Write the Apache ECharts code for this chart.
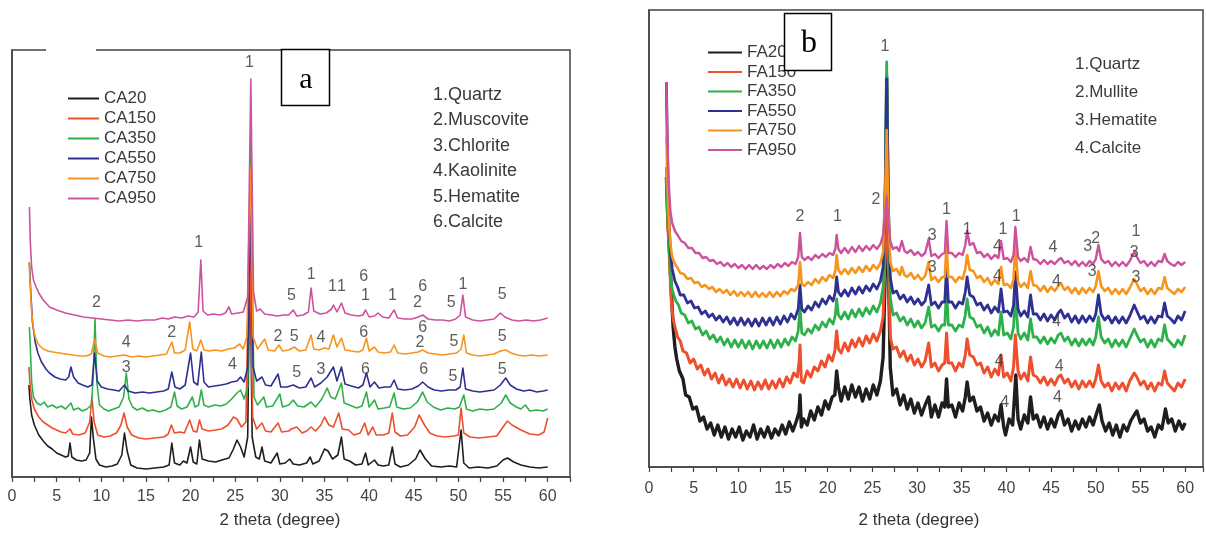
<!DOCTYPE html>
<html><head><meta charset="utf-8">
<script src="https://cdn.jsdelivr.net/npm/echarts@6/dist/echarts.min.js"></script>
<style>html,body{margin:0;padding:0;background:#fff}#c{width:1206px;height:536px}</style>
</head><body><div id="c"></div><script>
const namesA = ['CA20','CA150','CA350','CA550','CA750','CA950'];
const namesB = ['FA20','FA150','FA350','FA550','FA750','FA950'];
const colors = ['#1e1e1e','#ef4f2c','#2eb14b','#2e3192','#f7941d','#cc529e'];
const mineralsA = ['1.Quartz','2.Muscovite','3.Chlorite','4.Kaolinite','5.Hematite','6.Calcite'];
const mineralsB = ['1.Quartz','2.Mullite','3.Hematite','4.Calcite'];
const xTickLabels = [0,5,10,15,20,25,30,35,40,45,50,55,60];
const axisTitle = '2 theta (degree)';

const CA20 = [[1.9,92],[2.0,78],[2.2,62],[2.5,52],[3.0,42],[3.5,36],[4.0,31],[4.5,28],[5.0,24],[5.5,22],[6.0,20],[6.3,21],[6.5,34],[6.7,20],[7.2,17],[7.8,16],[8.3,17],[8.7,24],[8.9,60],[9.1,40],[9.4,18],[9.8,12],[10.5,10],[11.2,11],[11.8,13],[12.3,22],[12.6,44],[12.9,26],[13.3,12],[14,9],[15,8],[16,9],[17,10],[17.6,12],[17.9,34],[18.2,14],[18.8,12],[19.2,16],[19.6,14],[20.0,30],[20.3,15],[20.7,13],[21.0,37],[21.3,18],[22,16],[22.8,15],[23.5,17],[24.3,19],[24.8,28],[25.2,37],[25.6,30],[26.0,20],[26.4,40],[26.65,230],[26.9,40],[27.3,20],[27.7,18],[28.0,30],[28.3,16],[29.0,14],[29.7,24],[30.0,13],[30.6,14],[31.1,18],[31.5,13],[32.2,12],[33.0,14],[33.4,20],[33.7,13],[34.4,16],[35.0,28],[35.4,26],[35.9,18],[36.5,22],[36.9,40],[37.2,18],[37.8,16],[38.5,12],[39.2,13],[39.6,24],[39.9,12],[40.6,17],[41.0,12],[41.6,11],[42.2,12],[42.6,30],[42.9,13],[43.5,10],[44.4,12],[45.2,18],[45.7,27],[46.3,18],[47.0,11],[48.0,10],[49.0,11],[49.8,10],[50.3,47],[50.6,14],[51.2,9],[52.2,10],[53.3,9],[54.3,11],[55.0,17],[55.5,19],[56.2,15],[57.0,12],[58.0,10],[59.0,9],[60.0,10]];
const CA150 = [[1.9,110],[2.0,95],[2.2,78],[2.5,68],[3.0,60],[3.5,55],[4.0,52],[4.5,49],[5.0,47],[5.5,45],[6.0,44],[6.5,48],[6.8,43],[7.5,42],[8.2,44],[8.7,55],[8.95,80],[9.2,55],[9.6,42],[10.3,40],[11.0,41],[11.7,44],[12.2,52],[12.55,64],[12.9,50],[13.4,42],[14.2,39],[15,38],[16,39],[17,40],[17.5,43],[17.85,52],[18.2,44],[18.8,45],[19.3,44],[19.9,57],[20.3,46],[20.7,45],[21.0,57],[21.3,48],[22.0,46],[22.8,47],[23.5,48],[24.2,52],[24.8,60],[25.2,58],[25.7,50],[26.2,55],[26.6,250],[26.95,60],[27.4,48],[28.0,54],[28.4,46],[29.0,45],[29.8,54],[30.2,45],[31.0,46],[31.3,48],[31.9,50],[32.5,44],[33.0,46],[33.5,50],[34.0,46],[34.6,52],[35.0,60],[35.5,52],[36.0,50],[36.6,64],[37.0,48],[37.7,47],[38.3,42],[39.0,44],[39.5,54],[39.9,42],[40.4,50],[40.8,42],[41.6,42],[42.2,44],[42.6,64],[42.9,45],[43.5,41],[44.3,42],[45.1,50],[45.6,62],[46.2,52],[46.8,44],[47.6,41],[48.5,40],[49.5,41],[50.0,42],[50.3,69],[50.6,44],[51.3,40],[52.3,39],[53.3,40],[54.3,41],[55.0,50],[55.5,56],[56.0,52],[57.0,47],[58.0,43],[59.0,42],[59.6,45],[60.0,59]];
const CA350 = [[1.95,150],[2.05,130],[2.2,95],[2.4,80],[2.8,74],[3.2,72],[3.6,75],[4.0,70],[4.5,72],[5.0,69],[5.5,71],[6.0,68],[6.6,74],[6.9,67],[7.4,69],[7.9,66],[8.4,68],[8.9,72],[9.1,100],[9.3,158],[9.5,95],[9.8,72],[10.3,68],[10.8,66],[11.4,68],[12.0,70],[12.5,80],[12.8,104],[13.1,78],[13.5,70],[14.0,67],[14.6,69],[15.2,66],[15.8,67],[16.5,65],[17.2,67],[17.8,70],[18.2,85],[18.5,71],[19.0,68],[19.6,70],[20.2,80],[20.5,70],[20.9,72],[21.2,87],[21.5,72],[22.0,70],[22.7,72],[23.4,71],[24.0,73],[24.6,78],[25.2,84],[25.6,87],[26.0,78],[26.4,90],[26.75,340],[27.1,80],[27.5,72],[28.2,80],[28.5,70],[29.2,71],[30.0,83],[30.3,70],[31.0,72],[31.5,77],[32.0,71],[32.7,70],[33.5,75],[34.0,70],[34.7,78],[35.3,89],[35.7,80],[36.2,78],[36.9,94],[37.2,74],[37.8,72],[38.6,69],[39.2,71],[39.7,85],[40.0,70],[40.6,77],[41.0,68],[41.7,69],[42.3,70],[42.8,84],[43.1,70],[43.8,68],[44.6,69],[45.4,75],[46.0,85],[46.5,75],[47.2,70],[48.0,67],[48.8,69],[49.6,68],[50.1,70],[50.6,82],[50.9,68],[51.6,66],[52.4,68],[53.2,67],[54.0,68],[54.8,74],[55.3,82],[55.8,74],[56.5,70],[57.0,68],[57.5,72],[58.0,66],[58.8,67],[59.5,66],[60.0,68]];
const CA550 = [[1.95,214],[2.1,185],[2.3,154],[2.6,135],[2.9,124],[3.3,115],[3.8,108],[4.2,104],[4.8,100],[5.4,98],[6.0,97],[6.35,100],[6.6,110],[6.9,100],[7.4,94],[7.9,92],[8.5,90],[8.95,92],[9.25,124],[9.55,96],[10.0,90],[10.7,88],[11.4,87],[12.0,86],[12.6,92],[13.0,86],[13.8,84],[14.6,85],[15.4,84],[16.2,85],[17.0,86],[17.5,88],[17.9,105],[18.25,90],[18.8,88],[19.4,92],[20.0,124],[20.35,95],[20.8,92],[21.2,125],[21.5,95],[22.0,90],[22.7,91],[23.4,92],[24.0,93],[24.6,95],[25.2,96],[25.6,100],[26.0,95],[26.4,110],[26.7,290],[27.0,110],[27.4,96],[28.0,100],[28.4,92],[29.0,91],[29.8,103],[30.1,90],[30.8,90],[31.5,92],[32.2,89],[32.9,90],[33.5,99],[33.9,90],[34.6,94],[35.3,100],[36.0,110],[36.4,96],[36.9,110],[37.3,93],[38.0,91],[38.8,89],[39.3,92],[39.7,104],[40.1,90],[40.6,95],[41.1,89],[41.8,90],[42.4,90],[42.8,97],[43.2,88],[44.0,87],[44.8,88],[45.5,91],[46.0,95],[46.6,90],[47.3,87],[48.1,86],[48.9,87],[49.7,87],[50.2,90],[50.5,109],[50.8,88],[51.6,86],[52.4,85],[53.2,86],[54.0,87],[54.7,92],[55.3,99],[55.8,92],[56.5,88],[57.3,86],[58.0,87],[58.8,85],[59.5,86],[60.0,87]];
const CA750 = [[1.9,215],[2.05,190],[2.2,165],[2.4,148],[2.6,140],[3.0,132],[3.5,128],[4.0,126],[4.6,125],[5.3,124],[6.0,123],[6.8,122],[7.6,121],[8.3,121],[8.9,123],[9.25,138],[9.6,124],[10.3,121],[11.0,120],[11.8,121],[12.6,122],[13.4,120],[14.2,121],[15.0,120],[15.8,121],[16.6,122],[17.3,123],[17.9,135],[18.2,124],[18.8,124],[19.4,127],[19.9,155],[20.25,128],[20.7,126],[21.15,137],[21.5,127],[22.1,126],[22.8,127],[23.5,126],[24.2,128],[24.9,129],[25.5,133],[25.9,128],[26.3,140],[26.7,310],[27.0,140],[27.5,128],[28.3,138],[28.7,127],[29.4,126],[29.9,132],[30.3,126],[31.0,127],[31.6,130],[32.2,126],[32.9,127],[33.5,142],[33.8,128],[34.4,127],[35.0,129],[35.5,128],[36.0,142],[36.4,130],[36.9,139],[37.3,127],[38.0,126],[38.8,125],[39.3,127],[39.7,139],[40.0,126],[40.6,130],[41.0,125],[41.7,124],[42.4,125],[42.8,132],[43.2,124],[44.0,123],[44.8,124],[45.5,125],[46.0,127],[46.6,124],[47.4,123],[48.2,122],[49.0,123],[49.8,124],[50.3,128],[50.6,142],[50.9,124],[51.6,122],[52.4,121],[53.2,122],[54.0,123],[54.7,126],[55.3,127],[55.9,124],[56.6,122],[57.4,121],[58.2,122],[59.0,121],[60.0,122]];
const CA950 = [[1.95,270],[2.05,235],[2.2,210],[2.4,197],[2.7,190],[3.0,184],[3.5,177],[4.2,170],[5.0,167],[6.0,164],[7.0,162],[8.0,160],[9.0,159],[10.0,158],[11.0,157],[12.0,156],[13.0,157],[14.0,156],[15.0,157],[16.0,157],[16.8,159],[17.5,158],[18.2,160],[19.0,159],[19.7,161],[20.4,160],[20.85,165],[21.15,217],[21.4,166],[21.9,162],[22.6,163],[23.3,162],[23.9,164],[24.3,170],[24.6,163],[25.3,164],[25.9,165],[26.4,180],[26.75,398],[27.05,185],[27.4,166],[27.8,168],[28.3,163],[29.0,162],[29.7,161],[30.4,162],[31.0,162],[31.5,167],[31.9,161],[32.6,162],[33.2,165],[33.5,189],[33.8,166],[34.5,163],[35.2,164],[35.8,168],[36.0,172],[36.4,165],[36.9,174],[37.3,164],[38.0,162],[38.8,161],[39.3,162],[39.6,167],[40.0,160],[40.6,161],[41.0,164],[41.5,160],[42.2,159],[42.8,167],[43.2,159],[44.0,158],[44.8,158],[45.5,160],[46.0,162],[46.6,158],[47.4,157],[48.2,157],[49.0,156],[49.7,158],[50.2,162],[50.5,182],[50.8,160],[51.6,157],[52.4,156],[53.2,157],[54.0,158],[54.7,164],[55.2,160],[56.0,157],[56.8,156],[57.6,157],[58.4,156],[59.2,157],[60.0,159]];

const FA20 = [[1.95,290],[2.1,250],[2.3,215],[2.5,175],[2.7,140],[2.9,120],[3.1,108],[3.4,96],[3.8,88],[4.1,72],[4.5,70],[4.9,58],[5.3,60],[5.7,46],[6.1,50],[6.5,38],[6.9,44],[7.3,32],[7.7,42],[8.1,30],[8.5,40],[8.9,28],[9.3,38],[9.7,30],[10.1,40],[10.5,27],[10.9,36],[11.3,30],[11.7,42],[12.1,28],[12.5,38],[12.9,30],[13.3,40],[13.7,29],[14.1,38],[14.5,32],[14.9,42],[15.3,33],[15.7,45],[16.1,36],[16.5,46],[16.8,55],[16.9,72],[17.05,40],[17.3,48],[17.7,42],[18.1,56],[18.5,47],[18.9,60],[19.3,52],[19.7,66],[20.1,58],[20.5,70],[20.8,72],[21.0,96],[21.2,80],[21.5,66],[21.9,80],[22.3,68],[22.7,82],[23.1,70],[23.5,80],[23.9,66],[24.3,78],[24.7,68],[25.1,82],[25.5,72],[25.9,86],[26.2,110],[26.45,200],[26.6,390],[26.8,200],[27.0,100],[27.3,72],[27.7,78],[28.1,62],[28.5,72],[28.9,58],[29.3,68],[29.7,54],[30.1,64],[30.5,52],[30.9,62],[31.3,70],[31.6,50],[32.0,62],[32.4,50],[32.8,64],[33.1,60],[33.3,88],[33.5,60],[33.9,62],[34.3,50],[34.7,64],[35.1,56],[35.4,70],[35.6,85],[35.9,66],[36.3,70],[36.7,56],[37.1,60],[37.5,46],[37.9,54],[38.3,42],[38.7,52],[39.1,46],[39.4,62],[39.7,40],[39.9,32],[40.3,48],[40.7,42],[40.9,70],[41.05,92],[41.3,48],[41.6,38],[42.0,52],[42.4,44],[42.7,70],[43.0,48],[43.4,52],[43.8,40],[44.2,50],[44.6,38],[45.0,48],[45.4,40],[45.8,52],[46.1,56],[46.5,42],[46.9,48],[47.3,36],[47.7,46],[48.1,38],[48.5,48],[48.9,40],[49.3,50],[49.7,42],[50.1,54],[50.4,62],[50.7,46],[51.1,36],[51.5,44],[51.9,32],[52.3,42],[52.7,30],[53.1,42],[53.5,36],[53.9,46],[54.3,52],[54.6,56],[55.0,44],[55.4,48],[55.8,36],[56.2,40],[56.6,30],[57.0,42],[57.4,38],[57.8,58],[58.1,44],[58.5,48],[58.9,36],[59.3,46],[59.7,38],[60.0,44]];
const FA150 = [[1.95,290],[2.1,245],[2.3,205],[2.5,165],[2.7,148],[2.9,140],[3.2,130],[3.5,126],[3.8,116],[4.2,114],[4.6,104],[5.0,108],[5.4,98],[5.8,102],[6.2,92],[6.6,98],[7.0,88],[7.4,94],[7.8,84],[8.2,92],[8.6,82],[9.0,88],[9.4,80],[9.8,88],[10.2,79],[10.6,87],[11.0,78],[11.4,86],[11.8,77],[12.2,85],[12.6,78],[13.0,87],[13.4,78],[13.8,86],[14.2,79],[14.6,88],[15.0,80],[15.4,90],[15.8,84],[16.2,94],[16.6,90],[16.8,105],[16.9,122],[17.05,86],[17.3,84],[17.7,96],[18.1,90],[18.5,100],[18.9,96],[19.3,106],[19.7,100],[20.1,112],[20.5,106],[20.8,116],[21.0,136],[21.2,118],[21.5,114],[21.9,124],[22.3,116],[22.7,127],[23.1,120],[23.5,129],[23.9,121],[24.3,131],[24.7,124],[25.1,133],[25.5,126],[25.9,136],[26.2,150],[26.45,220],[26.6,300],[26.8,200],[27.0,130],[27.3,118],[27.7,120],[28.1,110],[28.5,116],[28.9,106],[29.3,112],[29.7,102],[30.1,108],[30.5,100],[30.9,106],[31.3,124],[31.6,100],[32.0,104],[32.4,96],[32.8,102],[33.1,104],[33.3,134],[33.5,104],[33.9,104],[34.3,96],[34.7,104],[35.1,100],[35.4,112],[35.6,128],[35.9,112],[36.3,110],[36.7,102],[37.1,104],[37.5,94],[37.9,100],[38.3,90],[38.7,98],[39.1,92],[39.4,112],[39.7,90],[40.1,94],[40.5,86],[40.8,100],[41.0,132],[41.3,96],[41.6,88],[42.0,94],[42.4,86],[42.7,110],[43.0,92],[43.4,90],[43.8,84],[44.2,90],[44.6,82],[45.0,88],[45.4,82],[45.8,90],[46.1,92],[46.5,84],[46.9,88],[47.3,80],[47.7,86],[48.1,78],[48.5,86],[48.9,80],[49.3,86],[49.7,80],[50.0,88],[50.3,102],[50.6,86],[51.0,80],[51.4,84],[51.8,76],[52.2,84],[52.6,78],[53.0,84],[53.4,76],[53.8,86],[54.3,94],[54.6,90],[55.0,82],[55.4,86],[55.8,78],[56.2,84],[56.6,76],[57.0,84],[57.4,82],[57.7,96],[58.0,84],[58.4,80],[58.8,76],[59.2,84],[59.6,80],[60.0,88]];
const FA350 = [[1.95,300],[2.1,250],[2.3,212],[2.5,182],[2.7,174],[3.0,166],[3.3,162],[3.6,154],[4.0,152],[4.4,144],[4.8,146],[5.2,138],[5.6,140],[6.0,132],[6.4,136],[6.8,128],[7.2,132],[7.6,125],[8.0,130],[8.4,122],[8.8,128],[9.2,120],[9.6,127],[10.0,120],[10.4,127],[10.8,119],[11.2,126],[11.6,118],[12.0,126],[12.4,119],[12.8,126],[13.2,119],[13.6,127],[14.0,119],[14.4,127],[14.8,120],[15.2,128],[15.6,122],[16.0,130],[16.4,126],[16.7,136],[16.9,160],[17.1,134],[17.4,132],[17.8,138],[18.2,134],[18.6,142],[19.0,137],[19.4,145],[19.8,140],[20.2,148],[20.6,143],[20.85,152],[21.0,168],[21.2,152],[21.5,148],[21.9,155],[22.3,148],[22.7,157],[23.1,150],[23.5,158],[23.9,151],[24.3,159],[24.7,153],[25.1,161],[25.5,155],[25.9,164],[26.2,180],[26.45,280],[26.6,405],[26.8,260],[27.0,170],[27.3,152],[27.7,154],[28.1,146],[28.5,150],[28.9,142],[29.3,148],[29.7,140],[30.1,146],[30.5,139],[30.9,144],[31.3,160],[31.6,140],[32.0,142],[32.4,136],[32.8,142],[33.1,142],[33.3,178],[33.5,142],[33.9,142],[34.3,136],[34.7,142],[35.1,140],[35.4,152],[35.6,168],[35.9,150],[36.3,148],[36.7,140],[37.1,142],[37.5,134],[37.9,140],[38.3,131],[38.7,137],[39.1,132],[39.4,155],[39.7,132],[40.1,134],[40.5,128],[40.8,140],[41.0,172],[41.3,134],[41.6,128],[42.0,134],[42.4,127],[42.7,148],[43.0,130],[43.4,130],[43.8,124],[44.2,130],[44.6,123],[45.0,129],[45.4,124],[45.8,132],[46.1,134],[46.5,126],[46.9,130],[47.3,122],[47.7,128],[48.1,121],[48.5,128],[48.9,122],[49.3,128],[49.7,122],[50.0,130],[50.3,150],[50.6,130],[51.0,124],[51.4,128],[51.8,120],[52.2,127],[52.6,121],[53.0,127],[53.4,120],[53.8,128],[54.3,138],[54.6,132],[55.0,125],[55.4,128],[55.8,120],[56.2,127],[56.6,120],[57.0,128],[57.4,126],[57.7,142],[58.0,128],[58.4,124],[58.8,120],[59.2,127],[59.6,122],[60.0,132]];
const FA550 = [[1.95,385],[2.05,320],[2.2,255],[2.4,215],[2.6,198],[2.9,186],[3.2,180],[3.5,172],[3.9,172],[4.3,164],[4.7,166],[5.1,159],[5.5,160],[5.9,153],[6.3,156],[6.7,150],[7.1,153],[7.5,147],[7.9,151],[8.3,145],[8.7,150],[9.1,143],[9.5,149],[9.9,142],[10.3,149],[10.7,142],[11.1,148],[11.5,141],[11.9,148],[12.3,141],[12.7,149],[13.1,142],[13.5,149],[13.9,142],[14.3,150],[14.7,143],[15.1,151],[15.5,145],[15.9,153],[16.3,148],[16.7,158],[16.9,182],[17.1,158],[17.4,155],[17.8,161],[18.2,157],[18.6,165],[19.0,160],[19.4,168],[19.8,163],[20.2,171],[20.6,166],[20.85,175],[21.0,190],[21.2,175],[21.5,171],[21.9,177],[22.3,171],[22.7,179],[23.1,173],[23.5,180],[23.9,174],[24.3,181],[24.7,176],[25.1,183],[25.5,178],[25.9,186],[26.2,200],[26.45,290],[26.6,388],[26.8,260],[27.0,190],[27.3,174],[27.7,176],[28.1,168],[28.5,172],[28.9,165],[29.3,170],[29.7,163],[30.1,168],[30.5,162],[30.9,166],[31.3,182],[31.6,162],[32.0,165],[32.4,159],[32.8,165],[33.1,165],[33.3,200],[33.5,165],[33.9,165],[34.3,159],[34.7,165],[35.1,163],[35.4,175],[35.6,190],[35.9,172],[36.3,170],[36.7,162],[37.1,164],[37.5,157],[37.9,162],[38.3,154],[38.7,160],[39.1,155],[39.4,178],[39.7,155],[40.1,156],[40.5,151],[40.8,162],[41.0,195],[41.3,158],[41.6,151],[42.0,156],[42.4,150],[42.7,172],[43.0,153],[43.4,153],[43.8,147],[44.2,153],[44.6,146],[45.0,152],[45.4,147],[45.8,154],[46.1,157],[46.5,149],[46.9,153],[47.3,145],[47.7,151],[48.1,144],[48.5,151],[48.9,145],[49.3,151],[49.7,146],[50.0,153],[50.3,172],[50.6,153],[51.0,147],[51.4,151],[51.8,144],[52.2,150],[52.6,144],[53.0,150],[53.4,144],[53.8,151],[54.3,162],[54.6,156],[55.0,148],[55.4,151],[55.8,144],[56.2,150],[56.6,144],[57.0,151],[57.4,150],[57.7,164],[58.0,151],[58.4,148],[58.8,144],[59.2,151],[59.6,147],[60.0,156]];
const FA750 = [[1.95,330],[2.05,290],[2.2,250],[2.4,222],[2.6,210],[2.9,203],[3.2,199],[3.5,194],[3.9,193],[4.3,188],[4.7,189],[5.1,184],[5.5,185],[5.9,180],[6.3,182],[6.7,178],[7.1,180],[7.5,175],[7.9,178],[8.3,174],[8.7,177],[9.1,172],[9.5,176],[9.9,171],[10.3,175],[10.7,171],[11.1,175],[11.5,170],[11.9,175],[12.3,170],[12.7,174],[13.1,170],[13.5,175],[13.9,170],[14.3,175],[14.7,171],[15.1,176],[15.5,173],[15.9,178],[16.3,176],[16.7,182],[16.9,205],[17.1,183],[17.4,181],[17.8,185],[18.2,182],[18.6,188],[19.0,184],[19.4,190],[19.8,186],[20.2,192],[20.6,189],[20.85,196],[21.0,212],[21.2,197],[21.5,193],[21.9,198],[22.3,193],[22.7,199],[23.1,194],[23.5,200],[23.9,195],[24.3,201],[24.7,196],[25.1,202],[25.5,198],[25.9,204],[26.2,215],[26.45,280],[26.6,337],[26.8,250],[27.0,205],[27.3,196],[27.7,198],[28.1,192],[28.3,200],[28.6,192],[28.9,190],[29.3,194],[29.7,188],[30.1,192],[30.5,187],[30.9,191],[31.3,205],[31.6,187],[32.0,190],[32.4,185],[32.8,190],[33.1,190],[33.3,222],[33.5,190],[33.9,190],[34.3,185],[34.7,190],[35.1,188],[35.4,198],[35.6,212],[35.9,197],[36.3,196],[36.7,189],[37.1,191],[37.5,185],[37.9,189],[38.3,182],[38.7,187],[39.1,183],[39.4,200],[39.7,182],[40.1,183],[40.5,179],[40.8,188],[41.0,222],[41.3,185],[41.6,180],[42.0,184],[42.4,179],[42.7,196],[43.0,182],[43.4,181],[43.8,176],[44.2,181],[44.6,175],[45.0,180],[45.4,176],[45.8,181],[46.1,184],[46.5,177],[46.9,180],[47.3,174],[47.7,179],[48.1,173],[48.5,179],[48.9,174],[49.3,179],[49.7,175],[50.0,181],[50.3,196],[50.6,181],[51.0,176],[51.4,179],[51.8,173],[52.2,178],[52.6,173],[53.0,178],[53.4,173],[53.8,179],[54.3,188],[54.6,183],[55.0,176],[55.4,179],[55.8,173],[56.2,178],[56.6,173],[57.0,179],[57.4,178],[57.7,190],[58.0,179],[58.4,176],[58.8,173],[59.2,178],[59.6,175],[60.0,180]];
const FA950 = [[1.95,385],[2.05,330],[2.2,285],[2.4,255],[2.6,244],[2.9,236],[3.2,232],[3.6,226],[4.0,224],[4.4,219],[4.8,219],[5.2,214],[5.6,214],[6.0,209],[6.4,210],[6.8,206],[7.2,207],[7.6,203],[8.0,205],[8.4,201],[8.8,204],[9.2,200],[9.6,203],[10.0,199],[10.4,202],[10.8,198],[11.2,202],[11.6,198],[12.0,202],[12.4,198],[12.8,201],[13.2,198],[13.6,202],[14.0,199],[14.4,203],[14.8,200],[15.2,204],[15.6,201],[16.0,205],[16.4,203],[16.7,210],[16.9,234],[17.1,210],[17.4,207],[17.8,210],[18.2,207],[18.6,212],[19.0,209],[19.4,213],[19.8,210],[20.2,214],[20.6,212],[20.85,218],[21.0,232],[21.2,218],[21.5,214],[21.9,219],[22.3,214],[22.7,220],[23.1,215],[23.5,221],[23.9,216],[24.3,221],[24.7,217],[25.1,222],[25.5,218],[25.9,223],[26.2,232],[26.45,255],[26.6,270],[26.8,245],[27.0,226],[27.3,218],[27.7,220],[28.0,216],[28.3,226],[28.6,216],[28.9,214],[29.3,217],[29.7,212],[30.1,215],[30.5,211],[30.9,214],[31.3,228],[31.6,211],[32.0,213],[32.4,209],[32.8,213],[33.1,214],[33.3,246],[33.5,214],[33.9,214],[34.3,210],[34.7,214],[35.1,212],[35.4,222],[35.6,236],[35.9,222],[36.3,224],[36.7,214],[37.1,215],[37.5,210],[37.9,213],[38.3,208],[38.7,212],[39.1,209],[39.4,226],[39.7,208],[40.1,209],[40.5,205],[40.8,212],[41.0,240],[41.3,210],[41.6,206],[42.0,209],[42.4,205],[42.7,220],[43.0,208],[43.4,207],[43.8,203],[44.2,207],[44.6,203],[45.0,206],[45.4,203],[45.8,207],[46.1,209],[46.5,204],[46.9,206],[47.3,202],[47.7,206],[48.1,201],[48.5,205],[48.9,201],[49.3,206],[49.7,203],[50.0,208],[50.3,222],[50.6,208],[51.0,204],[51.4,206],[51.8,201],[52.2,205],[52.6,201],[53.0,205],[53.4,201],[53.8,206],[54.3,215],[54.6,210],[55.0,204],[55.4,206],[55.8,201],[56.2,205],[56.6,201],[57.0,206],[57.4,205],[57.7,213],[58.0,206],[58.4,203],[58.8,201],[59.2,205],[59.6,202],[60.0,205]];

const peakLabelsA = [[26.6,414,'1'],[20.9,234,'1'],[9.45,174,'2'],[17.9,144,'2'],[12.8,134,'4'],[12.8,109,'3'],[24.7,112,'4'],
 [31.3,181,'5'],[33.5,202,'1'],[35.9,190,'1'],[36.9,190,'1'],[39.4,200,'6'],[39.6,181,'1'],[42.6,181,'1'],[46.0,190,'6'],[45.4,174,'2'],[49.2,174,'5'],[50.5,192,'1'],[54.9,182,'5'],
 [29.8,140,'2'],[31.6,140,'5'],[34.6,139,'4'],[39.4,144,'6'],[46.0,149,'6'],[45.7,134,'2'],[49.5,135,'5'],[54.9,140,'5'],
 [31.9,104,'5'],[34.6,107,'3'],[39.6,107,'6'],[46.1,107,'6'],[49.4,100,'5'],[54.9,107,'5']];
const peakLabelsB = [[26.4,420,'1'],[16.9,250,'2'],[21.1,250,'1'],[25.4,267,'2'],[31.7,231,'3'],[31.7,199,'3'],[33.3,257,'1'],[35.6,237,'1'],[39.6,237,'1'],[39.0,220,'4'],[39.0,190,'4'],[41.1,250,'1'],[45.2,219,'4'],[45.6,185,'4'],[45.6,145,'4'],[39.2,105,'4'],[45.9,100,'4'],[39.8,64,'4'],[45.7,69,'4'],[49.1,220,'3'],[50.0,228,'2'],[49.6,195,'3'],[54.5,235,'1'],[54.3,214,'3'],[54.5,189,'3']];

const dataA = [CA20, CA150, CA350, CA550, CA750, CA950];
const dataB = [FA20, FA150, FA350, FA550, FA750, FA950];
const widthsA = [1.6, 1.6, 1.6, 1.6, 1.6, 1.6];
const widthsB = [3.4, 3.0, 2.8, 2.8, 2.6, 2.4];

const FONT = '"Liberation Sans", Arial, sans-serif';
const AX = '#444';
function xAx(gi, max, margin) {
  return {type:'value', gridIndex:gi, min:0, max:max, interval:5,
    axisLine:{onZero:false, lineStyle:{color:AX, width:1.5}},
    axisTick:{show:true, length:5, lineStyle:{color:AX, width:1.2}},
    minorTick:{show:true, splitNumber:2, length:5, lineStyle:{color:AX, width:1.2}},
    axisLabel:{margin:margin, fontSize:16, color:'#444', fontFamily:FONT,
      formatter: v => xTickLabels.includes(v) ? String(v) : ''},
    splitLine:{show:false}, minorSplitLine:{show:false}};
}
function yAx(gi, max) {
  return {type:'value', gridIndex:gi, min:0, max:max,
    axisLine:{show:true, onZero:false, lineStyle:{color:AX, width:1.5}},
    axisTick:{show:false}, axisLabel:{show:false}, splitLine:{show:false}};
}
function lines(names, data, gi, widths) {
  return names.map((n, i) => ({type:'line', name:n, xAxisIndex:gi, yAxisIndex:gi, data:data[i],
    symbol:'none', showSymbol:false, silent:true, animation:false,
    lineStyle:{color:colors[i], width:widths[i], join:'round'}, itemStyle:{color:colors[i]}, z:2+i}));
}
function labels(arr, gi) {
  return {type:'scatter', xAxisIndex:gi, yAxisIndex:gi, silent:true, z:20, symbolSize:1,
    itemStyle:{color:'transparent'},
    data: arr.map(d => ({value:[d[0], d[1]], name:d[2]})),
    label:{show:true, position:'inside', formatter:'{b}', fontSize:16, color:'#333', fontFamily:FONT}};
}

const chart = echarts.init(document.getElementById('c'), null, {renderer:'canvas'});
chart.setOption({
  animation:false,
  backgroundColor:'#fff',
  grid:[
    {left:12, top:50, width:558, height:427, show:true, borderColor:AX, borderWidth:1.5, backgroundColor:'transparent'},
    {left:649, top:10, width:555, height:457, show:true, borderColor:AX, borderWidth:1.5, backgroundColor:'transparent'}
  ],
  xAxis:[xAx(0, 62.5, 12), xAx(1, 62, 14)],
  yAxis:[yAx(0, 427), yAx(1, 457)],
  legend:[
    {orient:'vertical', left:63, top:85, icon:'rect', itemWidth:31, itemHeight:2, itemGap:3, selectedMode:false,
      data:namesA, textStyle:{fontSize:17, color:'#3a3a3a', fontFamily:FONT, lineHeight:16}},
    {orient:'vertical', left:703, top:39, icon:'rect', itemWidth:34, itemHeight:2, itemGap:2.5, selectedMode:false,
      data:namesB, textStyle:{fontSize:17, color:'#3a3a3a', fontFamily:FONT, lineHeight:16}}
  ],
  series:[...lines(namesA, dataA, 0, widthsA), ...lines(namesB, dataB, 1, widthsB), labels(peakLabelsA, 0), labels(peakLabelsB, 1)],
  graphic:[
    {type:'rect', z:100, shape:{x:46, y:46, width:50, height:8}, style:{fill:'#fff'}},
    {type:'rect', z:100, shape:{x:281.5, y:49.5, width:48, height:56}, style:{fill:'#fff', stroke:'#000', lineWidth:1.5}},
    {type:'text', z:101, x:306, y:80, style:{text:'a', font:'30px "Liberation Serif", serif', fill:'#000', align:'center', verticalAlign:'middle'}},
    {type:'rect', z:100, shape:{x:784.5, y:13.5, width:47, height:57}, style:{fill:'#fff', stroke:'#000', lineWidth:1.5}},
    {type:'text', z:101, x:809, y:44, style:{text:'b', font:'32px "Liberation Serif", serif', fill:'#000', align:'center', verticalAlign:'middle'}},
    {type:'text', z:101, x:433, y:82, style:{text:mineralsA.join('\n'), font:'18px ' + FONT, lineHeight:25.5, fill:'#3a3a3a', verticalAlign:'top'}},
    {type:'text', z:101, x:1075, y:50, style:{text:mineralsB.join('\n'), font:'17px ' + FONT, lineHeight:28, fill:'#3a3a3a', verticalAlign:'top'}},
    {type:'text', z:101, x:280, y:520, style:{text:axisTitle, font:'17px ' + FONT, fill:'#333', align:'center', verticalAlign:'middle'}},
    {type:'text', z:101, x:919, y:520, style:{text:axisTitle, font:'17px ' + FONT, fill:'#333', align:'center', verticalAlign:'middle'}}
  ]
});
</script></body></html>
